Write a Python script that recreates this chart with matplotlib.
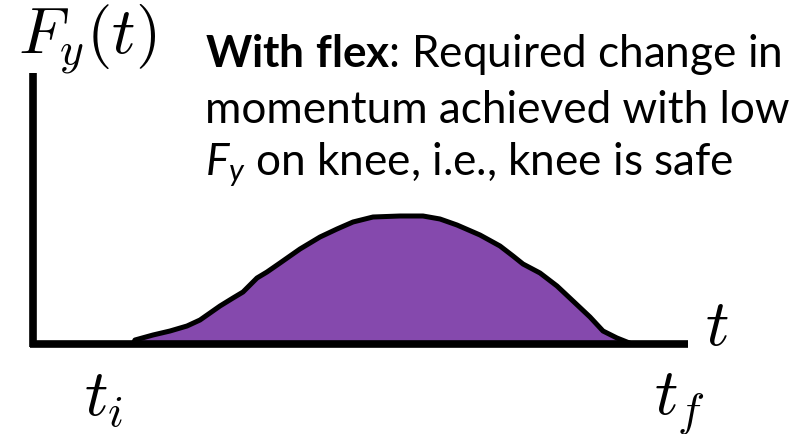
import matplotlib.pyplot as plt

# force profile of the knee with flex (t in px-like units, F upward)
t_vals = [100, 102, 120, 137, 154, 167, 177, 187, 200, 210, 217, 224, 234, 247, 267, 287, 304, 320,
          340, 367, 390, 407, 424, 447, 467, 480, 490, 507, 524, 540, 557, 570, 584, 594, 599]
f_vals = [0, 4, 9, 13, 18, 24, 31, 38, 46, 52, 59, 66, 72, 81, 95, 107, 115, 122,
          127, 128, 128, 125, 119, 109, 98, 88, 80, 71, 58, 43, 27, 13, 6, 2, 0]

t_axis_end = 655
f_axis_top = 271

plt.rcParams['mathtext.fontset'] = 'custom'
plt.rcParams['mathtext.rm'] = 'Lato'
plt.rcParams['mathtext.it'] = 'Lato:italic'
plt.rcParams['mathtext.bf'] = 'Lato:bold'

fig = plt.figure(figsize=(8.04, 4.35), dpi=100)
ax = fig.add_axes([0, 0, 1, 1])
ax.set_xlim(-33, 771)
ax.set_ylim(-90, 345)
ax.axis('off')

# filled pulse with dark outline
ax.fill_between(t_vals, f_vals, 0, color='#8549AD', lw=0, zorder=2)
ax.plot(t_vals, f_vals, color='black', lw=3.6, solid_capstyle='round', solid_joinstyle='round', zorder=3)

# axes
ax.plot([0, 0], [-3, f_axis_top], color='black', lw=5.5, solid_capstyle='butt', zorder=4)
ax.plot([-3, t_axis_end], [0, 0], color='black', lw=5.5, solid_capstyle='butt', zorder=4)

ax.text(-15, 292, r'$F_y(t)$', fontsize=47, math_fontfamily='cm', va='baseline', ha='left')
ax.text(672, 0, r'$t$', fontsize=47, math_fontfamily='cm', va='baseline', ha='left')
ax.text(71, -71, r'$t_i$', fontsize=47, math_fontfamily='cm', va='baseline', ha='center')
ax.text(646, -69, r'$t_f$', fontsize=47, math_fontfamily='cm', va='baseline', ha='center')

txt = dict(fontsize=31.8, family='Lato', va='baseline', ha='left')
ax.text(172, 278, r'$\mathbf{With\ flex}$: Required change in', **txt)
ax.text(172, 222, 'momentum achieved with low', **txt)
ax.text(172, 170, r'$F_y$ on knee, i.e., knee is safe', **txt)

fig.savefig('out.png', dpi=100)
